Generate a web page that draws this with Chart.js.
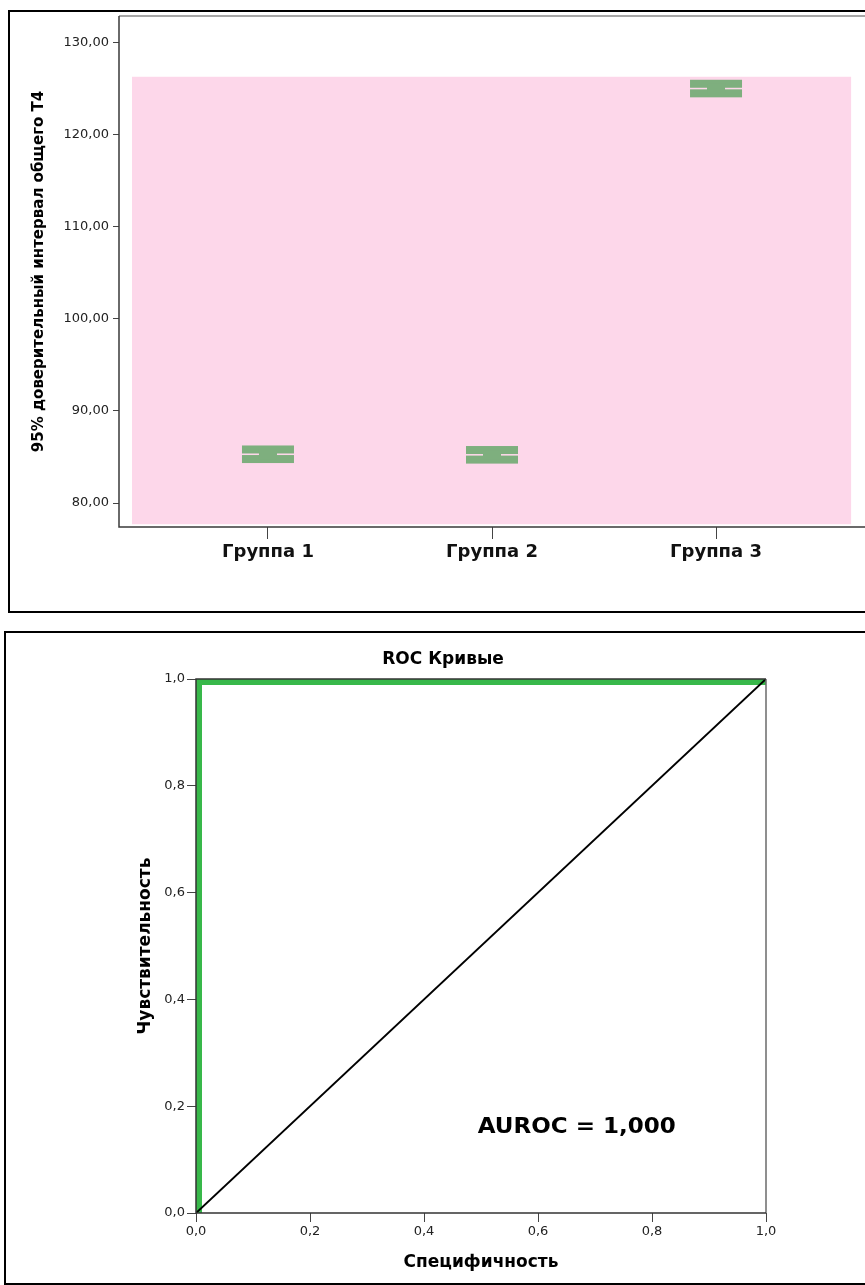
<!DOCTYPE html>
<html><head><meta charset="utf-8">
<script src="https://cdn.jsdelivr.net/npm/chart.js@4.4.1/dist/chart.umd.min.js"></script>
<style>
html,body{margin:0;padding:0;background:#fff;overflow:hidden;width:865px;height:1285px;position:relative}
.wrap{position:absolute;left:0}
.box{position:absolute;border:2px solid #000;box-sizing:border-box;pointer-events:none}
canvas{display:block}
</style></head><body>
<div class="wrap" style="top:0"><canvas id="c1" width="865" height="615"></canvas></div>
<div class="wrap" style="top:615px"><canvas id="c2" width="865" height="670"></canvas></div>
<div class="box" style="left:8px;top:10px;width:900px;height:603px"></div>
<div class="box" style="left:4px;top:631px;width:900px;height:654px"></div>
<script>
// ---------- data: chart 1 (95% CI error bars) ----------
const groups = ['Группа 1', 'Группа 2', 'Группа 3'];
const groupPos = [1, 2, 3];
const ciMean  = [85.30, 85.24, 125.02];
const ciLower = [84.78, 84.72, 124.50];
const ciUpper = [85.82, 85.76, 125.54];
const yTicks1 = [80, 90, 100, 110, 120, 130];
const yTickLabels1 = ['80,00', '90,00', '100,00', '110,00', '120,00', '130,00'];
const yTitle1 = '95% доверительный интервал общего Т4';

// ---------- data: chart 2 (ROC) ----------
const rocSpec = [0, 0, 1];
const rocSens = [0, 1, 1];
const refSpec = [0, 1];
const refSens = [0, 1];
const rocTicks = [0, 0.2, 0.4, 0.6, 0.8, 1.0];
const rocTickLabels = ['0,0', '0,2', '0,4', '0,6', '0,8', '1,0'];
const rocTitle = 'ROC Кривые';
const rocXTitle = 'Специфичность';
const rocYTitle = 'Чувствительность';
const aurocText = 'AUROC = 1,000';
const aurocPos = {x: 0.668, y: 0.161};

const FONT = 'DejaVu Sans';

// ---------- chart 1 ----------
const bgRegion = {xMin: 0.393, xMax: 3.603, yMin: 77.7, yMax: 126.3};
const bgPlugin = {
  id: 'bg1',
  beforeDatasetsDraw(chart) {
    const {ctx, scales: {x, y}} = chart;
    const l = x.getPixelForValue(bgRegion.xMin), r = x.getPixelForValue(bgRegion.xMax);
    const t = y.getPixelForValue(bgRegion.yMax), b = y.getPixelForValue(bgRegion.yMin);
    ctx.save();
    ctx.fillStyle = '#fdd7ea';
    ctx.fillRect(l, t, r - l, b - t);
    ctx.restore();
  }
};
const errPlugin = {
  id: 'err1',
  afterDatasetsDraw(chart) {
    const {ctx, scales: {x, y}} = chart;
    ctx.save();
    ctx.fillStyle = '#7eaf7e';
    groupPos.forEach((g, i) => {
      const cx = x.getPixelForValue(g);
      const yU = y.getPixelForValue(ciUpper[i]);
      const yL = y.getPixelForValue(ciLower[i]);
      const hw = 26, capH = 8, stemW = 18;
      ctx.fillRect(cx - hw, yU - capH / 2, hw * 2, capH);
      ctx.fillRect(cx - hw, yL - capH / 2, hw * 2, capH);
      ctx.fillRect(cx - stemW / 2, yU, stemW, yL - yU);
    });
    ctx.restore();
  }
};
const frame1 = {
  id: 'frame1',
  afterDatasetsDraw(chart) {
    const {ctx, chartArea: a} = chart;
    ctx.save();
    ctx.lineWidth = 1.5;
    ctx.strokeStyle = '#8a8a8a';
    ctx.beginPath(); ctx.moveTo(a.left, a.top); ctx.lineTo(a.right, a.top); ctx.stroke();
    ctx.strokeStyle = '#3a3a3a';
    ctx.beginPath(); ctx.moveTo(a.left, a.top); ctx.lineTo(a.left, a.bottom); ctx.lineTo(a.right, a.bottom); ctx.stroke();
    ctx.restore();
  }
};

new Chart(document.getElementById('c1'), {
  type: 'scatter',
  data: {datasets: [{data: groupPos.map((g, i) => ({x: g, y: ciMean[i]})), pointRadius: 0, showLine: false}]},
  options: {
    responsive: false, animation: false, events: [],
    layout: {padding: {top: 16, left: 0, right: 0, bottom: 0}},
    plugins: {legend: {display: false}, tooltip: {enabled: false}},
    scales: {
      x: {
        type: 'linear', min: 0.335, max: 3.665,
        afterBuildTicks: s => { s.ticks = groupPos.map(v => ({value: v})); },
        afterFit: s => { s.height = 88; },
        grid: {drawOnChartArea: false, drawTicks: true, tickLength: 12, color: '#444'},
        border: {display: false},
        ticks: {padding: 3, autoSkip: false, maxRotation: 0, color: '#111',
          font: {family: FONT, size: 18, weight: 'bold'},
          callback: v => groups[groupPos.indexOf(v)]}
      },
      y: {
        type: 'linear', min: 77.4, max: 132.9,
        afterBuildTicks: s => { s.ticks = yTicks1.map(v => ({value: v})); },
        afterFit: s => { s.width = 119; },
        grid: {drawOnChartArea: false, drawTicks: true, tickLength: 6, color: '#444'},
        border: {display: false},
        ticks: {padding: 4, color: '#222', font: {family: FONT, size: 13},
          callback: v => yTickLabels1[yTicks1.indexOf(v)]},
        title: {display: true, text: yTitle1, color: '#000',
          font: {family: FONT, size: 15, weight: 'bold'}, padding: {top: 30, bottom: 0}}
      }
    }
  },
  plugins: [bgPlugin, errPlugin, frame1]
});

// ---------- chart 2 ----------
const frame2 = {
  id: 'frame2',
  afterDatasetsDraw(chart) {
    const {ctx, chartArea: a, scales: {x, y}} = chart;
    ctx.save();
    ctx.lineWidth = 1.5;
    ctx.strokeStyle = '#6a6a6a';
    ctx.beginPath(); ctx.moveTo(a.right, a.top); ctx.lineTo(a.right, a.bottom); ctx.stroke();
    ctx.strokeStyle = '#333';
    ctx.beginPath(); ctx.moveTo(a.right, a.top); ctx.lineTo(a.left, a.top); ctx.lineTo(a.left, a.bottom); ctx.lineTo(a.right, a.bottom); ctx.stroke();
    // AUROC annotation
    ctx.fillStyle = '#000';
    ctx.font = 'bold 22px "DejaVu Sans"';
    ctx.textAlign = 'center';
    ctx.textBaseline = 'middle';
    const px = x.getPixelForValue(aurocPos.x), py = y.getPixelForValue(aurocPos.y);
    const w = ctx.measureText(aurocText).width;
    const sx = 198 / w;
    ctx.translate(px, py);
    ctx.scale(sx, 1);
    ctx.fillText(aurocText, 0, 0);
    ctx.restore();
    // title
    ctx.save();
    ctx.fillStyle = '#000';
    ctx.font = 'bold 17px "' + FONT + '"';
    ctx.textAlign = 'center';
    ctx.textBaseline = 'middle';
    ctx.fillText(rocTitle, 443, 44.5);
    ctx.restore();
  }
};

new Chart(document.getElementById('c2'), {
  type: 'line',
  data: {datasets: [
    {data: refSpec.map((v, i) => ({x: v, y: refSens[i]})), borderColor: '#000', borderWidth: 2,
     pointRadius: 0, tension: 0, fill: false},
    {data: rocSpec.map((v, i) => ({x: v, y: rocSens[i]})), borderColor: '#38b84a', borderWidth: 12,
     borderJoinStyle: 'miter', pointRadius: 0, tension: 0, fill: false, clip: 0}
  ]},
  options: {
    responsive: false, animation: false, events: [],
    layout: {padding: {top: 64, left: 21, right: 99, bottom: 0}},
    plugins: {legend: {display: false}, tooltip: {enabled: false}, title: {display: false}},
    scales: {
      x: {
        type: 'linear', min: 0, max: 1,
        afterBuildTicks: s => { s.ticks = rocTicks.map(v => ({value: v})); },
        afterFit: s => { s.height = 72; },
        grid: {drawOnChartArea: false, drawTicks: true, tickLength: 9, color: '#444'},
        border: {display: false},
        ticks: {padding: 2, autoSkip: false, maxRotation: 0, color: '#222', font: {family: FONT, size: 13},
          callback: v => rocTickLabels[rocTicks.indexOf(v)]},
        title: {display: true, text: rocXTitle, color: '#000',
          font: {family: FONT, size: 17, weight: 'bold'}, padding: {top: 0, bottom: 12}}
      },
      y: {
        type: 'linear', min: 0, max: 1,
        afterBuildTicks: s => { s.ticks = rocTicks.map(v => ({value: v})); },
        afterFit: s => { s.width = 175; },
        grid: {drawOnChartArea: false, drawTicks: true, tickLength: 9, color: '#444'},
        border: {display: false},
        ticks: {padding: 2, color: '#222', font: {family: FONT, size: 13},
          callback: v => rocTickLabels[rocTicks.indexOf(v)]},
        title: {display: true, text: rocYTitle, color: '#000',
          font: {family: FONT, size: 17, weight: 'bold'}, padding: {top: 114, bottom: 0}}
      }
    }
  },
  plugins: [frame2]
});
</script>
</body></html>
